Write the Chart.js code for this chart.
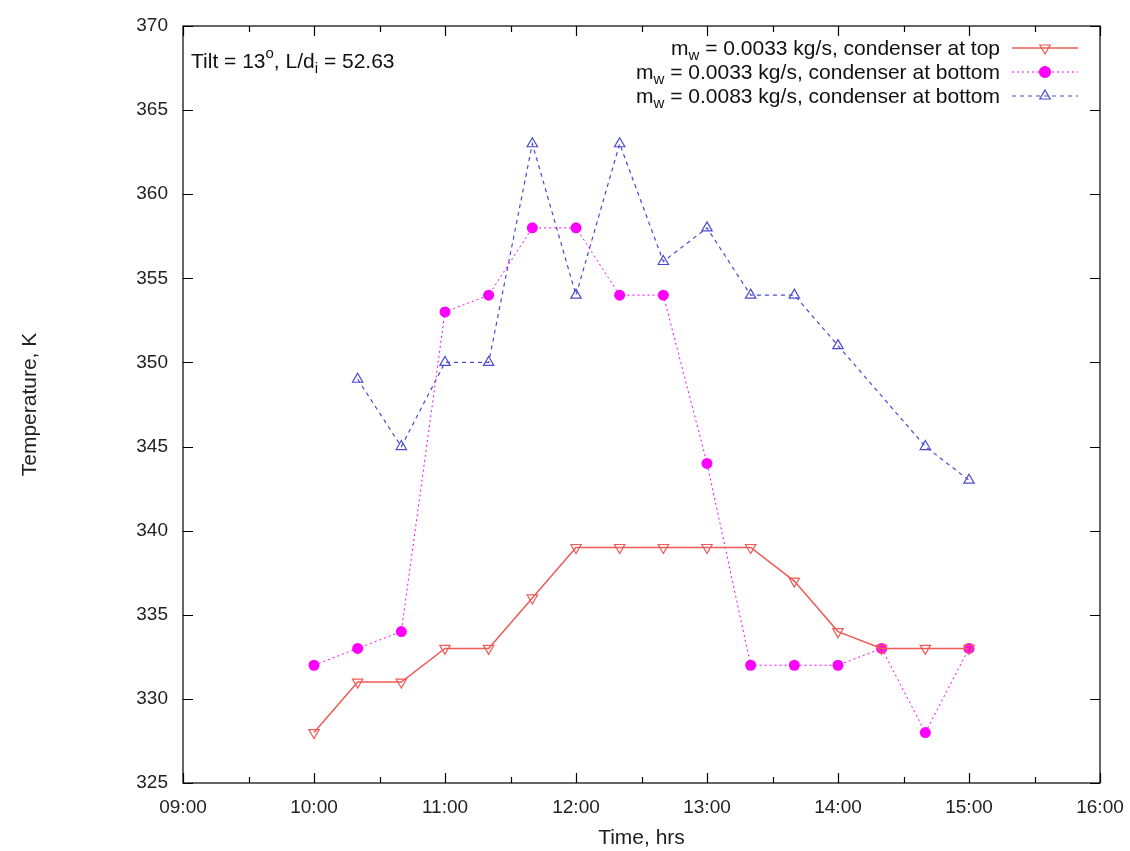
<!DOCTYPE html>
<html>
<head>
<meta charset="utf-8">
<script src="https://cdn.jsdelivr.net/npm/chart.js@4"></script>
<style>
  html, body { margin: 0; padding: 0; background: #fff; }
  #wrap { width: 1130px; height: 851px; }
</style>
</head>
<body>
<div id="wrap"><canvas id="chart"></canvas></div>
<script>
// times of the readings (hh:mm)
const times = ['10:00', '10:20', '10:40', '11:00', '11:20', '11:40', '12:00', '12:20',
               '12:40', '13:00', '13:20', '13:40', '14:00', '14:20', '14:40', '15:00'];

// temperatures, K
const topSmall = [328, 331, 331, 333, 333, 336, 339, 339, 339, 339, 339, 337, 334, 333, 333, 333];
const bottomSmall = [332, 333, 334, 353, 354, 358, 358, 354, 354, 344, 332, 332, 332, 333, 328, 333];
const bottomLarge = [null, 349, 345, 350, 350, 363, 354, 363, 356, 358, 354, 354, 351, null, 345, 343];

const xTicks = ['09:00', '10:00', '11:00', '12:00', '13:00', '14:00', '15:00', '16:00'];
const yTicks = [325, 330, 335, 340, 345, 350, 355, 360, 365, 370];

const legendLabels = [
    '0.0033 kg/s, condenser at top',
    '0.0033 kg/s, condenser at bottom',
    '0.0083 kg/s, condenser at bottom'
];

const FONT = '"Liberation Sans", Arial, sans-serif';
const RED = '#ee5a55';
const MAGENTA = '#ff00ff';
const BLUE = '#4a4ad0';

function toHours(t) {
    const p = t.split(':');
    return parseInt(p[0], 10) + parseInt(p[1], 10) / 60;
}

function series(values) {
    return times.map((t, i) => ({ x: toHours(t), y: values[i] }));
}

// frame + inward ticks on all four sides, legend and note
const framePlugin = {
    id: 'frame',
    afterDraw(chart) {
        const ctx = chart.ctx;
        const a = chart.chartArea;
        const xs = chart.scales.x;
        const ys = chart.scales.y;
        ctx.save();
        ctx.strokeStyle = '#000';
        ctx.lineWidth = 1.2;
        ctx.strokeRect(a.left, a.top, a.right - a.left, a.bottom - a.top);

        ctx.beginPath();
        for (let h = 9; h <= 16.001; h += 0.5) {
            const px = Math.round(xs.getPixelForValue(h)) + 0.5;
            const len = Number.isInteger(h) ? 10 : 6;
            ctx.moveTo(px, a.bottom); ctx.lineTo(px, a.bottom - len);
            ctx.moveTo(px, a.top); ctx.lineTo(px, a.top + len);
        }
        yTicks.forEach(v => {
            const py = Math.round(ys.getPixelForValue(v)) + 0.5;
            ctx.moveTo(a.left, py); ctx.lineTo(a.left + 10, py);
            ctx.moveTo(a.right, py); ctx.lineTo(a.right - 10, py);
        });
        ctx.stroke();

        const big = '21px ' + FONT;
        const small = '15px ' + FONT;

        // note at top left
        ctx.fillStyle = '#111';
        ctx.textBaseline = 'alphabetic';
        ctx.textAlign = 'left';
        let x = a.left + 8;
        const y = a.top + 42;
        const parts = [
            ['Tilt = 13', big, 0], ['o', small, -10], [', L/d', big, 0], ['i', small, 5], [' = 52.63', big, 0]
        ];
        parts.forEach(p => {
            ctx.font = p[1];
            ctx.fillText(p[0], x, y + p[2]);
            x += ctx.measureText(p[0]).width;
        });

        // legend, right aligned text with sample to the right
        const ds = chart.data.datasets;
        const textRight = a.right - 100;
        legendLabels.forEach((lab, i) => {
            const ly = a.top + 22 + i * 24;
            ctx.font = big;
            const rest = ' = ' + lab;
            const wRest = ctx.measureText(rest).width;
            const wM = ctx.measureText('m').width;
            ctx.font = small;
            const wW = ctx.measureText('w').width;
            let lx = textRight - wRest - wW - wM;
            ctx.fillStyle = '#111';
            ctx.font = big;
            ctx.fillText('m', lx, ly + 7);
            lx += wM;
            ctx.font = small;
            ctx.fillText('w', lx, ly + 12);
            lx += wW;
            ctx.font = big;
            ctx.fillText(rest, lx, ly + 7);

            const d = ds[i];
            ctx.strokeStyle = d.borderColor;
            ctx.lineWidth = d.borderWidth;
            ctx.setLineDash(d.borderDash || []);
            ctx.beginPath();
            ctx.moveTo(textRight + 12, ly);
            ctx.lineTo(textRight + 78, ly);
            ctx.stroke();
            ctx.setLineDash([]);
            ctx.fillStyle = d.pointBackgroundColor;
            ctx.strokeStyle = d.borderColor;
            ctx.lineWidth = 1.2;
            Chart.helpers.drawPoint(ctx, {
                pointStyle: d.pointStyle,
                rotation: d.pointRotation || 0,
                radius: d.pointRadius,
                borderWidth: 1.2
            }, textRight + 45, ly);
        });
        ctx.restore();
    }
};

const ctx = document.getElementById('chart').getContext('2d');
new Chart(ctx, {
    type: 'line',
    data: {
        datasets: [
            {
                label: 'condenser at top, 0.0033',
                data: series(topSmall),
                borderColor: RED,
                backgroundColor: 'rgba(255,255,255,0)',
                borderWidth: 1.5,
                pointStyle: 'triangle',
                pointRotation: 180,
                pointRadius: 6,
                pointBorderWidth: 1.2,
                pointBackgroundColor: 'rgba(255,255,255,0)',
                tension: 0
            },
            {
                label: 'condenser at bottom, 0.0033',
                data: series(bottomSmall),
                borderColor: MAGENTA,
                backgroundColor: MAGENTA,
                borderWidth: 1,
                borderDash: [2, 3],
                pointStyle: 'circle',
                pointRadius: 5.5,
                pointBorderWidth: 0,
                pointBackgroundColor: MAGENTA,
                tension: 0
            },
            {
                label: 'condenser at bottom, 0.0083',
                data: series(bottomLarge),
                borderColor: BLUE,
                backgroundColor: 'rgba(255,255,255,0)',
                borderWidth: 1.2,
                borderDash: [4, 4],
                pointStyle: 'triangle',
                pointRadius: 6,
                pointBorderWidth: 1.2,
                pointBackgroundColor: 'rgba(255,255,255,0)',
                spanGaps: true,
                tension: 0
            }
        ]
    },
    options: {
        responsive: true,
        maintainAspectRatio: false,
        animation: false,
        layout: { padding: { top: 26, right: 30, left: 0, bottom: 0 } },
        plugins: {
            legend: { display: false },
            tooltip: { enabled: false }
        },
        scales: {
            x: {
                type: 'linear',
                min: 9,
                max: 16,
                afterFit: s => { s.height = 68; },
                afterBuildTicks: s => {
                    s.ticks = xTicks.map(t => ({ value: toHours(t) }));
                },
                ticks: {
                    padding: 5,
                    color: '#222',
                    font: { family: FONT, size: 19 },
                    maxRotation: 0,
                    callback: v => xTicks.find(t => toHours(t) === v)
                },
                grid: { display: false },
                border: { display: false },
                title: {
                    display: true,
                    text: 'Time, hrs',
                    color: '#222',
                    font: { family: FONT, size: 21 },
                    padding: { top: 0, bottom: 0 }
                }
            },
            y: {
                min: 325,
                max: 370,
                afterFit: s => { s.width = 183; },
                afterBuildTicks: s => {
                    s.ticks = yTicks.map(v => ({ value: v }));
                },
                ticks: {
                    padding: 7,
                    color: '#222',
                    font: { family: FONT, size: 19 }
                },
                grid: { display: false },
                border: { display: false },
                title: {
                    display: true,
                    text: 'Temperature, K',
                    color: '#222',
                    font: { family: FONT, size: 21 },
                    padding: { top: 18, bottom: 0 }
                }
            }
        }
    },
    plugins: [framePlugin]
});
</script>
</body>
</html>
